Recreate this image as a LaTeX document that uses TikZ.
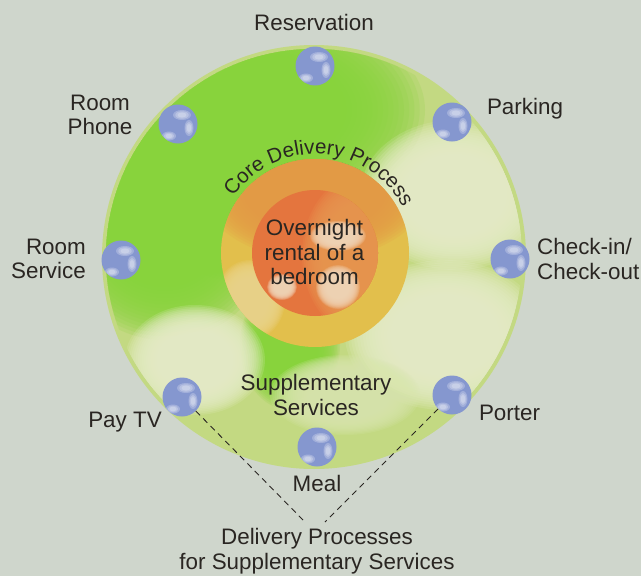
\documentclass[tikz,border=0pt]{standalone}
\usepackage{fontspec}
\setmainfont{Liberation Sans}
\usetikzlibrary{calc,decorations.text}

\definecolor{bgcol}{HTML}{CFD6CC}
\definecolor{rimgreen}{HTML}{C3D982}
\definecolor{leafgreen}{HTML}{88D33C}
\definecolor{cream}{HTML}{E7EDC9}
\definecolor{palecream}{HTML}{D9E6AE}
\definecolor{coreyellow}{HTML}{E2BF4C}
\definecolor{ringorange}{HTML}{E49A45}
\definecolor{ringlight}{HTML}{ECD58C}
\definecolor{coreorange}{HTML}{E4753E}
\definecolor{lightorange}{HTML}{EA9852}
\definecolor{peach}{HTML}{F2D6B8}
\definecolor{ballblue}{HTML}{8597CF}
\definecolor{inkcol}{HTML}{2A2622}

% soft edged patch of colour: stacked see-through ellipses
\newcommand{\softblob}[5]{%
  \foreach \s in {1.00,0.97,...,0.52}
    \fill[#1, opacity=0.18] (#2,#3) ellipse [x radius=\s*#4, y radius=\s*#5];}
% highlight on a ball, relative to its centre
\newcommand{\glint}[4]{%
  \foreach \s in {1.0,0.75,0.5}
    \fill[white, opacity=0.24] ([shift={(#1,#2)}]path picture bounding box.center)
      ellipse [x radius=\s*#3, y radius=\s*#4];}

\begin{document}
\begin{tikzpicture}[x=1pt,y=-1pt,
    lbl/.style={font=\fontsize{22.4}{24.5}\selectfont, text=inkcol, inner sep=0pt, align=center},
    ball/.style={circle, inner sep=0pt, minimum size=39pt, fill=ballblue,
      path picture={\glint{4}{-9}{9}{5}\glint{11}{4}{4.5}{8}\glint{-9}{12}{7}{4.5}}},
    link/.style={draw=inkcol, line width=0.9pt, dash pattern=on 6pt off 4.5pt}]

  \useasboundingbox (0,0) rectangle (641,576);
  \fill[bgcol] (0,0) rectangle (641,576);

  % outer disc
  \fill[rimgreen] (314,257) circle [radius=212];
  \begin{scope}
    \clip (314,257) circle [radius=208];
    \softblob{leafgreen}{250}{110}{175}{105}
    \softblob{leafgreen}{165}{222}{112}{118}
    \softblob{leafgreen}{235}{195}{85}{85}
    \softblob{leafgreen}{290}{345}{50}{65}
    \softblob{cream}{455}{195}{95}{75}
    \softblob{cream}{445}{335}{100}{75}
    \softblob{cream}{195}{360}{70}{55}
    \softblob{palecream}{345}{395}{75}{40}
  \end{scope}

  % core
  \fill[coreyellow] (315,253) circle [radius=94];
  \begin{scope}
    \clip (315,253) circle [radius=94];
    \softblob{ringorange}{315}{185}{115}{75}
    \softblob{ringlight}{250}{300}{35}{40}
  \end{scope}
  \fill[coreorange] (315,253) circle [radius=63];
  \begin{scope}
    \clip (315,253) circle [radius=63];
    \softblob{lightorange}{362}{255}{60}{80}
    \softblob{peach}{338}{236}{28}{15}
    \softblob{peach}{338}{287}{22}{22}
    \softblob{peach}{282}{287}{15}{13}
  \end{scope}

  \path[decorate, decoration={text along path, text align=center, text color=inkcol,
      text={|\fontsize{20.5}{22}\selectfont|Core Delivery Process}}]
    (315,253) ++(-148:99) arc [start angle=-148, end angle=-25, radius=99];

  \node[lbl] (core) at (314.5,252) {Overnight\\rental of a\\bedroom};
  \node[lbl] (suppl) at (316,395) {Supplementary\\Services};

  % supplementary services
  \node[ball] (resv) at (315,66) {};
  \node[ball] (phone) at (178,124) {};
  \node[ball] (parking) at (452,122) {};
  \node[ball] (roomsvc) at (121,260) {};
  \node[ball] (checkin) at (510,259) {};
  \node[ball] (paytv) at (182,397) {};
  \node[ball] (porter) at (452,395) {};
  \node[ball] (meal) at (317,447) {};

  \node[lbl] (resv-l) at (314,22) {Reservation};
  \node[lbl] (phone-l) at (100,115) {Room\\Phone};
  \node[lbl] (parking-l) at (525,109) {Parking};
  \node[lbl, anchor=east, align=right] (roomsvc-l) at (86,259) {Room\\Service};
  \node[lbl, anchor=west, align=left] (checkin-l) at (537,259) {Check-in/\\Check-out};
  \node[lbl] (paytv-l) at (125,422) {Pay TV};
  \node[lbl] (porter-l) at (509.5,413) {Porter};
  \node[lbl] (meal-l) at (317,483.5) {Meal};

  \node[lbl] (deliv) at (317,551) {Delivery Processes\\for Supplementary Services};
  \coordinate (dl) at (305,522);
  \coordinate (dr) at (325,522);
  \draw[link] (paytv) -- (dl);
  \draw[link] (porter) -- (dr);
\end{tikzpicture}
\end{document}
